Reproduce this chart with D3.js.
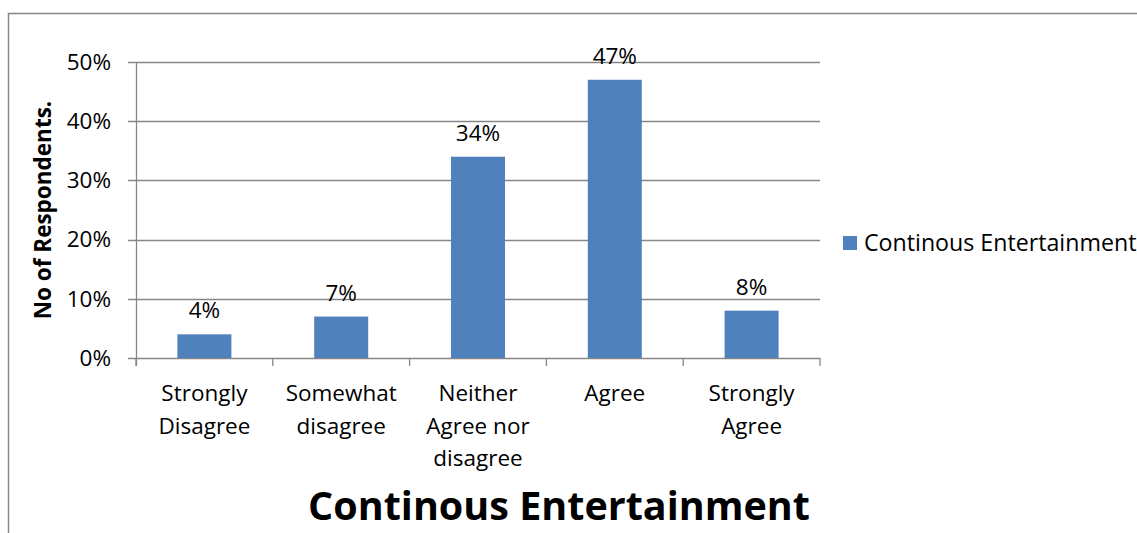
<!DOCTYPE html>
<html><head><meta charset="utf-8">
<script src="https://cdn.jsdelivr.net/npm/d3@7/dist/d3.min.js"></script>
<style>body{margin:0;background:#fff;}svg{display:block;font-family:"Open Sans",sans-serif;}</style>
</head><body><svg id="c" width="1137" height="533"></svg>
<script>
const categories = [["Strongly","Disagree"],["Somewhat","disagree"],["Neither","Agree nor","disagree"],["Agree"],["Strongly","Agree"]];
const values = [0.04, 0.07, 0.34, 0.47, 0.08];
const yTicks = [0, 0.1, 0.2, 0.3, 0.4, 0.5];
const seriesName = "Continous Entertainment";
const chartTitle = "Continous Entertainment";
const yTitle = "No of Respondents.";

const svg = d3.select("#c");
const m = {l:136, r:820, t:62, b:358};
const y = d3.scaleLinear().domain([0, 0.5]).range([m.b, m.t]);
const color = "#4f81bd", grid = "#868686";
const fs = 22.5;

svg.append("path").attr("d", `M8.5,540 V13.5 H1145`).attr("fill","none").attr("stroke",grid).attr("stroke-width",1.5);

svg.append("g").selectAll("line").data(yTicks).join("line")
  .attr("x1", m.l-8).attr("x2", m.r).attr("y1", d=>Math.round(y(d))+0.5).attr("y2", d=>Math.round(y(d))+0.5)
  .attr("stroke", grid).attr("stroke-width",1.3);
svg.append("line").attr("x1",m.l+0.5).attr("x2",m.l+0.5).attr("y1",m.t).attr("y2",m.b+8).attr("stroke",grid).attr("stroke-width",1.3);
const step = (m.r-m.l)/categories.length;
svg.append("g").selectAll("line").data(d3.range(categories.length+1)).join("line")
  .attr("x1", i=>m.l+i*step).attr("x2", i=>m.l+i*step).attr("y1", m.b).attr("y2", m.b+8)
  .attr("stroke", grid).attr("stroke-width",1.3);

svg.append("g").selectAll("text").data(yTicks).join("text")
  .attr("x", 111).attr("y", d=>y(d)).attr("dy","0.35em").attr("text-anchor","end")
  .attr("font-size",fs).attr("fill","#000").text(d3.format(".0%"));

const bw = 54;
const cx = i => m.l + step*(i+0.5);
svg.append("g").selectAll("rect").data(values).join("rect")
  .attr("x", (d,i)=>cx(i)-bw/2).attr("width", bw)
  .attr("y", d=>y(d)).attr("height", d=>y(0)-y(d)).attr("fill", color);

svg.append("g").selectAll("text").data(values).join("text")
  .attr("x", (d,i)=>cx(i)).attr("y", d=>y(d)-16).attr("text-anchor","middle")
  .attr("font-size",fs).attr("fill","#000").text(d3.format(".0%"));

const cl = svg.append("g").selectAll("text").data(categories).join("text")
  .attr("x", (d,i)=>cx(i)).attr("y", 401).attr("text-anchor","middle").attr("font-size",fs).attr("fill","#000");
cl.selectAll("tspan").data(d=>d).join("tspan").attr("x", function(){return this.parentNode.getAttribute("x");})
  .attr("dy",(d,j)=>j===0?0:32.5).text(d=>d);

svg.append("text").attr("transform","translate(51,210) rotate(-90)").attr("text-anchor","middle")
  .attr("font-size",22.5).attr("font-weight","bold").attr("fill","#000").text(yTitle);

svg.append("rect").attr("x",843).attr("y",236).attr("width",14).attr("height",14).attr("fill",color);
svg.append("text").attr("x",864).attr("y",243).attr("dy","0.35em").attr("font-size",23.2).attr("fill","#000").text(seriesName);

svg.append("text").attr("x",559).attr("y",520).attr("text-anchor","middle").attr("font-size",39.5).attr("font-weight","bold").attr("fill","#000").text(chartTitle);
</script></body></html>
